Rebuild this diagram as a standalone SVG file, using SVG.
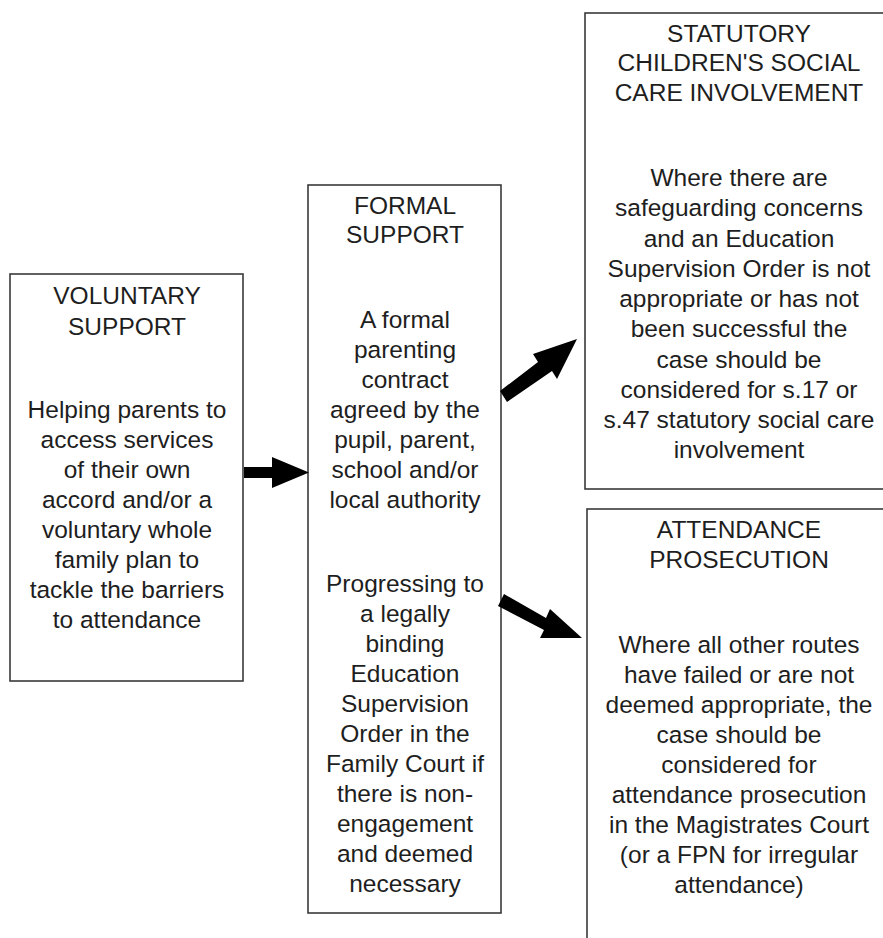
<svg xmlns="http://www.w3.org/2000/svg" width="883" height="938" viewBox="0 0 883 938">
<style>
.box{fill:#fff;stroke:#3a3a3a;stroke-width:1.6}
.t{font-family:"Liberation Sans",Arial,sans-serif;font-size:24.5px;fill:#1e1e1e;text-anchor:middle}
.arr{fill:#000}
</style>
<rect width="883" height="938" fill="#fff"/>
<g id="voluntary">
<rect class="box" x="10" y="274" width="233" height="407"/>
<text class="t" x="127" y="304">VOLUNTARY</text>
<text class="t" x="127" y="335">SUPPORT</text>
<text class="t" x="127" y="418">Helping parents to</text>
<text class="t" x="127" y="448">access services</text>
<text class="t" x="127" y="478">of their own</text>
<text class="t" x="127" y="508">accord and/or a</text>
<text class="t" x="127" y="538">voluntary whole</text>
<text class="t" x="127" y="568">family plan to</text>
<text class="t" x="127" y="598">tackle the barriers</text>
<text class="t" x="127" y="628">to attendance</text>
</g>
<g id="formal">
<rect class="box" x="308" y="185" width="193" height="728"/>
<text class="t" x="405" y="214">FORMAL</text>
<text class="t" x="405" y="243">SUPPORT</text>
<text class="t" x="405" y="328">A formal</text>
<text class="t" x="405" y="358">parenting</text>
<text class="t" x="405" y="388">contract</text>
<text class="t" x="405" y="418">agreed by the</text>
<text class="t" x="405" y="448">pupil, parent,</text>
<text class="t" x="405" y="478">school and/or</text>
<text class="t" x="405" y="508">local authority</text>
<text class="t" x="405" y="592">Progressing to</text>
<text class="t" x="405" y="622">a legally</text>
<text class="t" x="405" y="652">binding</text>
<text class="t" x="405" y="682">Education</text>
<text class="t" x="405" y="712">Supervision</text>
<text class="t" x="405" y="742">Order in the</text>
<text class="t" x="405" y="772">Family Court if</text>
<text class="t" x="405" y="802">there is non-</text>
<text class="t" x="405" y="832">engagement</text>
<text class="t" x="405" y="862">and deemed</text>
<text class="t" x="405" y="892">necessary</text>
</g>
<g id="statutory">
<rect class="box" x="585" y="13" width="310" height="476"/>
<text class="t" x="739" y="42">STATUTORY</text>
<text class="t" x="739" y="71">CHILDREN'S SOCIAL</text>
<text class="t" x="739" y="101">CARE INVOLVEMENT</text>
<text class="t" x="739" y="186">Where there are</text>
<text class="t" x="739" y="216">safeguarding concerns</text>
<text class="t" x="739" y="247">and an Education</text>
<text class="t" x="739" y="277">Supervision Order is not</text>
<text class="t" x="739" y="307">appropriate or has not</text>
<text class="t" x="739" y="337">been successful the</text>
<text class="t" x="739" y="368">case should be</text>
<text class="t" x="739" y="398">considered for s.17 or</text>
<text class="t" x="739" y="428">s.47 statutory social care</text>
<text class="t" x="739" y="458">involvement</text>
</g>
<g id="prosecution">
<rect class="box" x="587" y="509" width="310" height="450"/>
<text class="t" x="739" y="538">ATTENDANCE</text>
<text class="t" x="739" y="568">PROSECUTION</text>
<text class="t" x="739" y="653">Where all other routes</text>
<text class="t" x="739" y="683">have failed or are not</text>
<text class="t" x="739" y="713">deemed appropriate, the</text>
<text class="t" x="739" y="743">case should be</text>
<text class="t" x="739" y="773">considered for</text>
<text class="t" x="739" y="803">attendance prosecution</text>
<text class="t" x="739" y="833">in the Magistrates Court</text>
<text class="t" x="739" y="863">(or a FPN for irregular</text>
<text class="t" x="739" y="893">attendance)</text>
</g>
<g id="connectors">
<polygon class="arr" points="244,467 272,467 272,457 309,472.5 272,488 272,478 244,478"/>
<polygon class="arr" points="500,391 538,362 533,354 577,339 557,379 552,371 507,402"/>
<polygon class="arr" points="504,594 546,618 550,609 582,638 540,638 544,630 498,606"/>
</g>
</svg>
